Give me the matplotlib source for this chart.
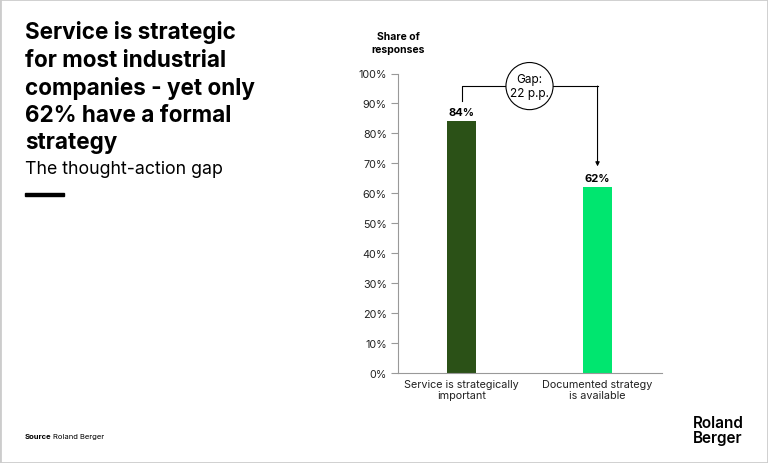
import matplotlib.pyplot as plt
from matplotlib.patches import Rectangle

# Chart data
categories = ["Service is strategically\nimportant", "Documented strategy\nis available"]
shares = [84, 62]
bar_colors = ["#2b5117", "#00e66f"]
y_ticks = [0, 10, 20, 30, 40, 50, 60, 70, 80, 90, 100]

plt.rcParams["font.family"] = ["Inter", "DejaVu Sans"]

fig = plt.figure(figsize=(7.68, 4.64), dpi=100)

# light grey frame round the slide
fig.patches.append(Rectangle((0, 0), 1, 1, transform=fig.transFigure,
                             fill=False, ec="#cccccc", lw=2))

# Title block
title_lines = ["Service is strategic", "for most industrial", "companies - yet only",
               "62% have a formal", "strategy"]
for i, line in enumerate(title_lines):
    fig.text(25/768, 1 - (33 + 27.6 * i)/464, line, ha="left", va="center",
             fontsize=16.2, fontweight="bold", color="#000000")
fig.text(25/768, 1 - 170/464, "The thought-action gap", ha="left", va="center",
         fontsize=12.8, color="#000000")
fig.patches.append(Rectangle((25/768, 1 - 197/464), 39/768, 3/464, transform=fig.transFigure,
                             color="black"))

fig.text(25/768, 1 - 437/464, "Source", ha="left", va="center", fontsize=5.5, fontweight="bold")
fig.text(53/768, 1 - 437/464, "Roland Berger", ha="left", va="center", fontsize=5.5)

fig.text(693/768, 1 - 431/464, "Roland\nBerger", ha="left", va="center", fontsize=11,
         fontweight="semibold", linespacing=0.92)

# Bar chart
ax = fig.add_axes([398/768, 90/464, 264/768, 299.5/464])
x = list(range(len(categories)))
ax.bar(x, shares, width=0.213, color=bar_colors)
ax.set_xlim(-0.467, 1.474)
ax.set_ylim(0, 100)
ax.set_yticks(y_ticks)
ax.set_yticklabels([f"{t}%" for t in y_ticks])
ax.set_xticks(x)
ax.set_xticklabels(categories, fontsize=7.8, linespacing=1.15)

for s in ["top", "right"]:
    ax.spines[s].set_visible(False)
for s in ["left", "bottom"]:
    ax.spines[s].set_color("#999999")
    ax.spines[s].set_linewidth(0.8)
ax.tick_params(axis="y", length=5, width=0.8, color="#999999", labelsize=7.8, pad=3, labelcolor="#222222")
ax.tick_params(axis="x", length=0, pad=4, labelcolor="#222222")

for xi, v in zip(x, shares):
    ax.text(xi, v + 1.5, f"{v}%", ha="center", va="bottom", fontsize=8, fontweight="bold")

ax.text(0.0, 1.065, "Share of\nresponses", transform=ax.transAxes,
        ha="center", va="bottom", fontsize=7.5, fontweight="bold", linespacing=1.4)

# Gap annotation
gap = shares[0] - shares[1]
line_y = 95.8
ax.plot([0, 0, 1, 1], [shares[0] + 6.8, line_y, line_y, line_y], color="black", lw=0.8, clip_on=False)
ax.annotate("", xy=(1, shares[1] + 7), xytext=(1, line_y),
            arrowprops=dict(arrowstyle="-|>", color="black", lw=0.8, mutation_scale=6,
                            shrinkA=0, shrinkB=0), annotation_clip=False)
ax.text(0.5, line_y, f"Gap:\n{gap} p.p.", ha="center", va="center", fontsize=8.5, linespacing=1.2,
        bbox=dict(boxstyle="circle,pad=0.35", fc="white", ec="black", lw=0.8), clip_on=False)

fig.savefig("out.png", dpi=100)
